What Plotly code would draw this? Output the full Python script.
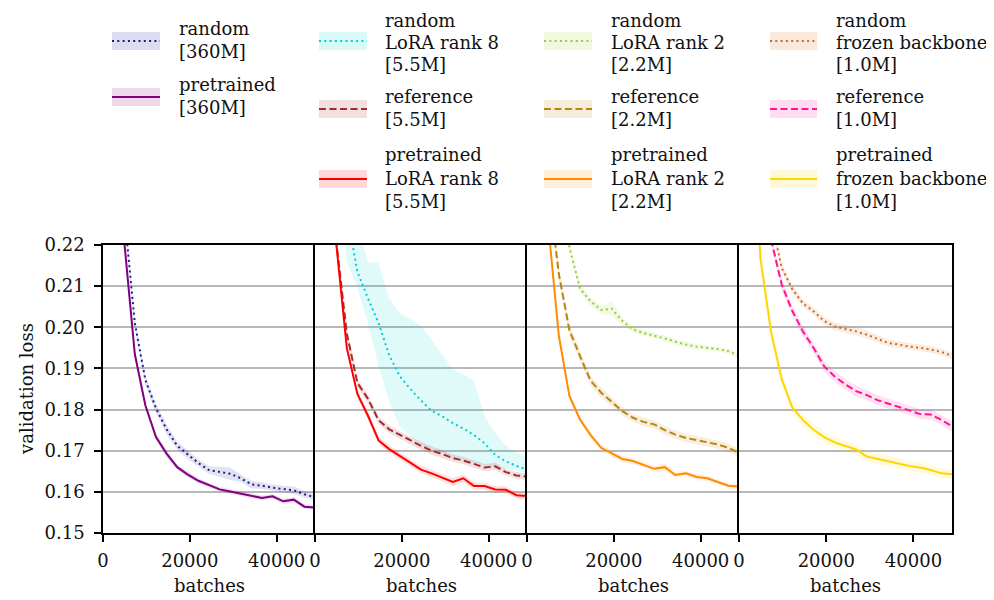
import plotly.graph_objects as go

# ---------------- data ----------------
BATCHES = [2441, 4882, 7324, 9765, 12207, 14648, 17090, 19531, 21972, 24414,
           26855, 29297, 31738, 34180, 36621, 39062, 41504, 43945, 46387, 48828]

# panel 1 : full fine-tuning [360M]
random_360 = [0.300, 0.228, 0.2010, 0.1872, 0.1803, 0.1752, 0.1712, 0.1690, 0.1670, 0.1653,
              0.1648, 0.1644, 0.1633, 0.1618, 0.1615, 0.1610, 0.1607, 0.1604, 0.1594, 0.1587]
random_360_sd = [0.003, 0.002, 0.0012, 0.0012, 0.0012, 0.0012, 0.0010, 0.0010, 0.0009, 0.0009,
                 0.0012, 0.0015, 0.0009, 0.0009, 0.0008, 0.0008, 0.0008, 0.0009, 0.0008, 0.0008]
pre_360 = [0.280, 0.221, 0.1935, 0.1810, 0.1733, 0.1693, 0.1660, 0.1642, 0.1627, 0.1616,
           0.1606, 0.1601, 0.1596, 0.1591, 0.1585, 0.1589, 0.1577, 0.1581, 0.1564, 0.1562]
pre_360_sd = [0.002, 0.0015, 0.0010, 0.0008, 0.0008, 0.0008, 0.0007, 0.0007, 0.0006, 0.0006,
              0.0006, 0.0006, 0.0006, 0.0006, 0.0006, 0.0006, 0.0006, 0.0006, 0.0005, 0.0005]

# panel 2 : LoRA rank 8 [5.5M]
random_l8 = [0.300, 0.245, 0.228, 0.2135, 0.2070, 0.2010, 0.1932, 0.1881, 0.1850, 0.1822,
             0.1797, 0.1784, 0.1767, 0.1754, 0.1738, 0.1718, 0.1690, 0.1674, 0.1663, 0.1654]
random_l8_lo = [0.280, 0.235, 0.216, 0.2095, 0.2010, 0.1905, 0.1820, 0.1758, 0.1735, 0.1716,
                0.1705, 0.1695, 0.1683, 0.1676, 0.1671, 0.1664, 0.1660, 0.1657, 0.1652, 0.1645]
random_l8_hi = [0.320, 0.260, 0.240, 0.2250, 0.2158, 0.2156, 0.2070, 0.2035, 0.2020, 0.2003,
                0.1970, 0.1935, 0.1898, 0.1885, 0.1870, 0.1783, 0.1745, 0.1712, 0.1695, 0.1685]
ref_55 = [0.280, 0.221, 0.1985, 0.1865, 0.1826, 0.1774, 0.1752, 0.1738, 0.1725, 0.1712,
          0.1700, 0.1692, 0.1682, 0.1676, 0.1668, 0.1659, 0.1662, 0.1648, 0.1640, 0.1637]
ref_55_sd = [0.002, 0.0015, 0.0012, 0.0010, 0.0010, 0.0009, 0.0009, 0.0009, 0.0009, 0.0010,
             0.0010, 0.0010, 0.0009, 0.0009, 0.0009, 0.0009, 0.0009, 0.0008, 0.0008, 0.0008]
pre_l8 = [0.280, 0.2205, 0.1950, 0.1838, 0.1785, 0.1725, 0.1704, 0.1688, 0.1670, 0.1654,
          0.1645, 0.1635, 0.1624, 0.1633, 0.1614, 0.1614, 0.1606, 0.1605, 0.1592, 0.1590]
pre_l8_sd = [0.002, 0.0015, 0.0012, 0.0010, 0.0010, 0.0009, 0.0009, 0.0009, 0.0009, 0.0009,
             0.0009, 0.0009, 0.0009, 0.0009, 0.0009, 0.0008, 0.0008, 0.0008, 0.0008, 0.0008]

# panel 3 : LoRA rank 2 [2.2M]
random_l2 = [0.320, 0.260, 0.235, 0.2195, 0.2094, 0.2063, 0.2042, 0.2045, 0.2015, 0.1995,
             0.1986, 0.1980, 0.1973, 0.1965, 0.1958, 0.1953, 0.1950, 0.1947, 0.1942, 0.1931]
random_l2_sd = [0.003, 0.002, 0.0015, 0.0012, 0.0010, 0.0010, 0.0010, 0.0018, 0.0010, 0.0008,
                0.0007, 0.0007, 0.0007, 0.0007, 0.0007, 0.0007, 0.0006, 0.0006, 0.0006, 0.0006]
ref_22 = [0.300, 0.235, 0.2130, 0.1993, 0.1930, 0.1870, 0.1841, 0.1818, 0.1796, 0.1780,
          0.1770, 0.1764, 0.1750, 0.1739, 0.1731, 0.1726, 0.1721, 0.1715, 0.1707, 0.1695]
ref_22_sd = [0.003, 0.002, 0.0015, 0.0015, 0.0013, 0.0012, 0.0012, 0.0011, 0.0010, 0.0010,
             0.0010, 0.0010, 0.0010, 0.0010, 0.0010, 0.0010, 0.0010, 0.0010, 0.0010, 0.0010]
pre_l2 = [0.290, 0.225, 0.1980, 0.1833, 0.1776, 0.1738, 0.1707, 0.1693, 0.1680, 0.1675,
          0.1665, 0.1656, 0.1660, 0.1641, 0.1645, 0.1636, 0.1633, 0.1624, 0.1615, 0.1613]
pre_l2_sd = [0.002, 0.0015, 0.0010, 0.0009, 0.0008, 0.0008, 0.0008, 0.0008, 0.0008, 0.0008,
             0.0008, 0.0008, 0.0010, 0.0007, 0.0007, 0.0007, 0.0007, 0.0007, 0.0006, 0.0006]

# panel 4 : frozen backbone [1.0M]
random_fz = [0.300, 0.250, 0.2265, 0.2145, 0.2093, 0.2058, 0.2039, 0.2015, 0.2002, 0.1996,
             0.1990, 0.1982, 0.1972, 0.1962, 0.1958, 0.1953, 0.1950, 0.1946, 0.1940, 0.1931]
random_fz_sd = [0.003, 0.002, 0.0012, 0.0010, 0.0010, 0.0009, 0.0009, 0.0009, 0.0009, 0.0009,
                0.0010, 0.0009, 0.0009, 0.0009, 0.0008, 0.0008, 0.0008, 0.0008, 0.0008, 0.0008]
ref_10 = [0.290, 0.240, 0.2215, 0.2105, 0.2040, 0.1990, 0.1950, 0.1905, 0.1880, 0.1861,
          0.1845, 0.1835, 0.1823, 0.1815, 0.1806, 0.1798, 0.1789, 0.1788, 0.1775, 0.1759]
ref_10_sd = [0.003, 0.002, 0.0015, 0.0014, 0.0013, 0.0013, 0.0013, 0.0013, 0.0013, 0.0013,
             0.0013, 0.0013, 0.0012, 0.0012, 0.0012, 0.0012, 0.0012, 0.0012, 0.0012, 0.0012]
pre_fz = [0.270, 0.217, 0.1990, 0.1875, 0.1805, 0.1775, 0.1751, 0.1733, 0.1720, 0.1711,
          0.1703, 0.1686, 0.1680, 0.1675, 0.1668, 0.1663, 0.1659, 0.1653, 0.1645, 0.1643]
pre_fz_sd = [0.003, 0.002, 0.0015, 0.0015, 0.0015, 0.0014, 0.0014, 0.0013, 0.0013, 0.0013,
             0.0013, 0.0013, 0.0013, 0.0013, 0.0013, 0.0013, 0.0013, 0.0013, 0.0012, 0.0012]

X_TICKS = [0, 20000, 40000]
Y_TICKS = [0.15, 0.16, 0.17, 0.18, 0.19, 0.20, 0.21, 0.22]

# ---------------- styling ----------------
OFF = 8                      # page body margin in the browser
W, H = 994 - OFF, 600 - OFF  # figure size
PANEL_PX = [(103, 315), (315, 527), (527, 739), (739, 952)]   # screen pixels
TOP_PX, BOT_PX = 245, 533
FONT = "DejaVu Serif"
FS = 18
TXT = "#111111"
DOT = "2px,3.3px"
DASH = "7px,3.5px"


def fx(px):
    return (px - OFF) / W


def fy(py):
    return 1 - (py - OFF) / H


def rgba(hexc, a):
    hexc = hexc.lstrip("#")
    r, g, b = int(hexc[0:2], 16), int(hexc[2:4], 16), int(hexc[4:6], 16)
    return f"rgba({r},{g},{b},{a})"


def sym(m, sd):
    return [a - s for a, s in zip(m, sd)], [a + s for a, s in zip(m, sd)]


# (panel, legend label, mean, lo, hi, colour, dash, band alpha)
SERIES = [
    (1, "random<br>[360M]", random_360, *sym(random_360, random_360_sd), "#1c1c8f", DOT, 0.13),
    (1, "pretrained<br>[360M]", pre_360, *sym(pre_360, pre_360_sd), "#800080", "solid", 0.13),
    (2, "random<br>LoRA rank 8<br>[5.5M]", random_l8, random_l8_lo, random_l8_hi, "#00CED1", DOT, 0.12),
    (2, "reference<br>[5.5M]", ref_55, *sym(ref_55, ref_55_sd), "#A52A2A", DASH, 0.15),
    (2, "pretrained<br>LoRA rank 8<br>[5.5M]", pre_l8, *sym(pre_l8, pre_l8_sd), "#FF0000", "solid", 0.13),
    (3, "random<br>LoRA rank 2<br>[2.2M]", random_l2, *sym(random_l2, random_l2_sd), "#9ACD32", DOT, 0.13),
    (3, "reference<br>[2.2M]", ref_22, *sym(ref_22, ref_22_sd), "#B8860B", DASH, 0.13),
    (3, "pretrained<br>LoRA rank 2<br>[2.2M]", pre_l2, *sym(pre_l2, pre_l2_sd), "#FF8C00", "solid", 0.12),
    (4, "random<br>frozen backbone<br>[1.0M]", random_fz, *sym(random_fz, random_fz_sd), "#D2691E", DOT, 0.13),
    (4, "reference<br>[1.0M]", ref_10, *sym(ref_10, ref_10_sd), "#FF1493", DASH, 0.13),
    (4, "pretrained<br>frozen backbone<br>[1.0M]", pre_fz, *sym(pre_fz, pre_fz_sd), "#FFD700", "solid", 0.12),
]

fig = go.Figure()

# bands first
for p, name, m, lo, hi, col, dash, al in SERIES:
    sfx = "" if p == 1 else str(p)
    fig.add_trace(go.Scatter(
        x=BATCHES + BATCHES[::-1], y=hi + lo[::-1], fill="toself",
        fillcolor=rgba(col, al), line=dict(width=0), mode="lines",
        hoverinfo="skip", showlegend=False, xaxis="x" + sfx, yaxis="y" + sfx))
# lines
for p, name, m, lo, hi, col, dash, al in SERIES:
    sfx = "" if p == 1 else str(p)
    fig.add_trace(go.Scatter(
        x=BATCHES, y=m, mode="lines", name=name.replace("<br>", " "),
        line=dict(color=col, width=2, dash=dash), showlegend=False,
        xaxis="x" + sfx, yaxis="y" + sfx))

layout = dict(
    width=W, height=H, margin=dict(l=0, r=0, t=0, b=0),
    paper_bgcolor="white", plot_bgcolor="white",
    font=dict(family=FONT, size=FS, color=TXT),
    showlegend=False,
)
ydom = [fy(BOT_PX), fy(TOP_PX)]
for i, (x0, x1) in enumerate(PANEL_PX, start=1):
    sfx = "" if i == 1 else str(i)
    layout["xaxis" + sfx] = dict(
        domain=[fx(x0), fx(x1)], range=[0, 48828], anchor="y" + sfx,
        tickvals=X_TICKS, ticktext=[str(v) for v in X_TICKS],
        ticks="outside", ticklen=7, tickwidth=1.5, tickcolor="black",
        ticklabelstandoff=4,
        showline=True, linecolor="black", linewidth=1.5, mirror=True,
        showgrid=False, zeroline=False, automargin=False,
        tickfont=dict(family=FONT, size=FS, color=TXT))
    layout["yaxis" + sfx] = dict(
        domain=ydom, range=[0.15, 0.22], anchor="x" + sfx,
        tickvals=Y_TICKS, ticktext=[f"{v:.2f}" for v in Y_TICKS],
        showticklabels=(i == 1), ticks="outside" if i == 1 else "",
        ticklen=7, tickwidth=1.5, tickcolor="black",
        ticklabelstandoff=6,
        showline=True, linecolor="black", linewidth=1.5, mirror=(i == 4),
        showgrid=True, gridcolor="#b8b8b8", gridwidth=1.5,
        zeroline=False, automargin=False,
        tickfont=dict(family=FONT, size=FS, color=TXT))
    if i > 1:
        layout["yaxis" + sfx]["matches"] = "y"
fig.update_layout(**layout)

ann = []
shapes = []
# axis labels
ann.append(dict(text="validation loss", x=fx(27), y=fy(389), xref="paper", yref="paper",
                textangle=-90, showarrow=False, xanchor="center", yanchor="middle",
                font=dict(family=FONT, size=FS, color=TXT)))
for x0, x1 in PANEL_PX:
    ann.append(dict(text="batches", x=fx((x0 + x1) / 2), y=fy(585), xref="paper", yref="paper",
                    showarrow=False, xanchor="center", yanchor="middle",
                    font=dict(family=FONT, size=FS, color=TXT)))

# manual legend (4 columns), one annotation per text line
LEG_COLS = [(112, 160, 177), (319, 367, 383), (544, 592, 609), (770, 817, 834)]
LEG_ROWS = {1: [41, 97], 2: [41, 109, 179], 3: [41, 109, 179], 4: [41, 109, 179]}
LINE_SP = 23.5
count = {1: 0, 2: 0, 3: 0, 4: 0}
for p, name, m, lo, hi, col, dash, al in SERIES:
    sx0, sx1, tx = LEG_COLS[p - 1]
    yy = LEG_ROWS[p][count[p]]
    count[p] += 1
    shapes.append(dict(type="rect", xref="paper", yref="paper",
                       x0=fx(sx0), x1=fx(sx1), y0=fy(yy + 9), y1=fy(yy - 9),
                       fillcolor=rgba(col, 0.15), line=dict(width=0), layer="above"))
    shapes.append(dict(type="line", xref="paper", yref="paper",
                       x0=fx(sx0), x1=fx(sx1), y0=fy(yy), y1=fy(yy),
                       line=dict(color=col, width=2, dash=dash), layer="above"))
    lines = name.split("<br>")
    n = len(lines)
    sp = LINE_SP
    start = yy - 1 - (n - 1) / 2 * sp
    if start < 21:               # keep the top line inside the page
        sp = 22
        start = 21
    for k, txt in enumerate(lines):
        ann.append(dict(text=txt, x=fx(tx), y=fy(start + k * sp), xref="paper", yref="paper",
                        showarrow=False, xanchor="left", yanchor="middle", align="left",
                        font=dict(family=FONT, size=FS, color=TXT)))

fig.update_layout(annotations=ann, shapes=shapes)
fig.write_html("out.html")
